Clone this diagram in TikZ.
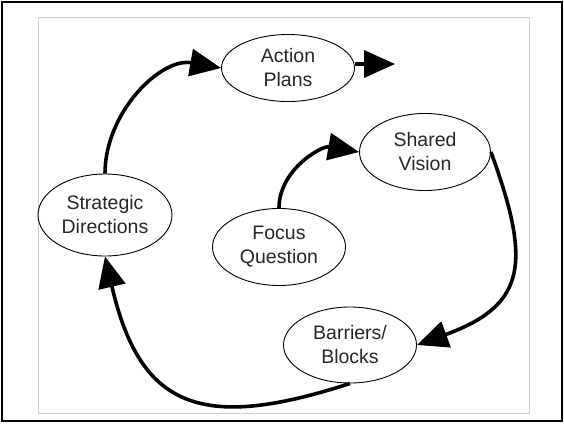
\documentclass[tikz,border=0pt]{standalone}
\usepackage{fontspec}
\setmainfont{Liberation Sans}
\usetikzlibrary{positioning}
\usetikzlibrary{shapes.geometric,arrows.meta}

\begin{document}
\begin{tikzpicture}[x=1pt,y=1pt,
  stage/.style={ellipse,draw,line width=0.9pt,inner sep=0pt,align=center,
    text=black!85,font=\fontsize{19.5}{24}\selectfont},
  flow/.style={-{Triangle[length=31pt,width=27pt]},line width=3.6pt}]
\useasboundingbox (0,0) rectangle (564,-423);
\draw[line width=2pt] (2,-2) rectangle (562,-421);
\draw[gray!40,line width=1pt] (38,-17) rectangle (529,-413);

\node[stage,minimum width=133pt,minimum height=67pt] (ap) at (288,-68) {Action\\Plans};
\node[stage,minimum width=131pt,minimum height=77pt] (sv) at (425,-152) {Shared\\Vision};
\node[stage,minimum width=134pt,minimum height=82pt] (sd) at (105,-215) {Strategic\\Directions};
\node[stage,minimum width=133pt,minimum height=77pt] (fq) at (279,-247) {Focus\\Question};
\node[stage,minimum width=133pt,minimum height=76pt] (bb) at (350,-345) {Barriers/\\Blocks};

\coordinate (next) at (395,-64);

\draw[flow] (sd.north) to[out=90,in=170] (ap.west);
\draw[flow] (fq.north) to[out=90,in=170] (sv.west);
\draw[flow] (sv.east) to[out=-70,in=20,looseness=1.45] (bb.east);
\draw[flow] (bb.south) to[out=198,in=-77,looseness=1.45] (sd.south);
\draw[flow] (ap.east |- next) -- (next);

\end{tikzpicture}
\end{document}
